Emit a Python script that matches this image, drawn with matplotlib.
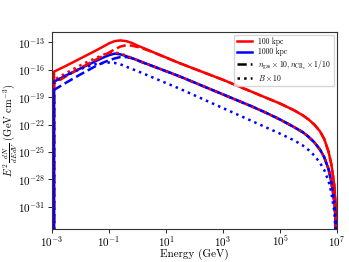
import numpy as np
import matplotlib
matplotlib.use("Agg")
import matplotlib.pyplot as plt
from matplotlib.lines import Line2D

plt.rcParams['font.family'] = 'serif'
plt.rcParams['font.serif'] = ['cmr10', 'DejaVu Serif']
plt.rcParams['mathtext.fontset'] = 'cm'
plt.rcParams['axes.formatter.use_mathtext'] = True

# log10(Energy / GeV)
log_energy = [-2.93, -2.93, -2.5, -2.0, -1.5, -1.2, -1.0, -0.8, -0.6, -0.4, -0.2, 0.0, 0.2,
              0.5, 1.0, 1.5, 2.0, 2.5, 3.0, 3.5, 4.0, 4.5, 5.0, 5.5, 5.8, 6.0, 6.2, 6.4, 6.55,
              6.7, 6.8, 6.9, 6.95, 6.96]

# log10(E^2 dN/dEdV / GeV cm^-3)
red_solid = [-45, -16.2, -15.55, -14.75, -13.95, -13.45, -13.1, -12.85, -12.78, -12.85, -13.05,
             -13.35, -13.6, -14.0, -14.65, -15.3, -15.9, -16.5, -17.1, -17.75, -18.4, -19.05,
             -19.7, -20.45, -21.0, -21.45, -22.0, -22.75, -23.6, -25.0, -26.4, -28.6, -31.0, -45]
blue_solid = [-45, -17.3, -16.6, -15.85, -15.1, -14.65, -14.4, -14.22, -14.3, -14.5, -14.72,
              -14.95, -15.2, -15.55, -16.15, -16.75, -17.4, -18.05, -18.7, -19.35, -20.0, -20.7,
              -21.45, -22.3, -22.85, -23.35, -23.95, -24.75, -25.6, -26.9, -28.3, -30.4, -32.5, -45]
red_dashed = [-45, -17.5, -16.7, -15.8, -14.95, -14.45, -14.1, -13.75, -13.45, -13.3, -13.35,
              -13.5, -13.68, -14.02, -14.67, -15.3, -15.9, -16.5, -17.1, -17.75, -18.4, -19.05,
              -19.7, -20.45, -21.0, -21.45, -22.0, -22.75, -23.6, -25.0, -26.4, -28.6, -31.0, -45]
blue_dashed = [-45, -18.2, -17.4, -16.5, -15.65, -15.2, -14.95, -14.75, -14.6, -14.6, -14.72,
               -14.97, -15.22, -15.57, -16.15, -16.75, -17.4, -18.05, -18.7, -19.35, -20.0, -20.7,
               -21.45, -22.3, -22.85, -23.35, -23.95, -24.75, -25.6, -26.9, -28.3, -30.4, -32.5, -45]
red_dotted = [-45, -17.1, -16.35, -15.5, -14.75, -14.35, -14.15, -14.1, -14.2, -14.45, -14.7,
              -14.95, -15.2, -15.55, -16.15, -16.75, -17.4, -18.05, -18.7, -19.35, -20.0, -20.7,
              -21.45, -22.3, -22.85, -23.35, -23.95, -24.75, -25.6, -26.9, -28.3, -30.4, -32.5, -45]
blue_dotted = [-45, -17.3, -16.6, -15.9, -15.4, -15.25, -15.2, -15.25, -15.4, -15.65, -15.9,
               -16.15, -16.4, -16.8, -17.45, -18.1, -18.8, -19.5, -20.2, -20.9, -21.6, -22.3,
               -23.0, -23.75, -24.3, -24.8, -25.4, -26.2, -27.0, -28.2, -29.5, -31.5, -34.0, -45]

legend_labels = ['100 kpc', '1000 kpc',
                 r'$n_{\rm gas}\times 10, n_{\rm CR_e}\times 1/10$', r'$B\times 10$']
xticks = [1e-3, 1e-1, 1e1, 1e3, 1e5, 1e7]
yticks = [1e-31, 1e-28, 1e-25, 1e-22, 1e-19, 1e-16, 1e-13]

E = 10.0 ** np.array(log_energy)
fig = plt.figure(figsize=(3.49, 2.62), dpi=100)
ax = fig.add_axes([0.149, 0.126, 0.817, 0.752])

lw = 1.8
ax.plot(E, 10.0 ** np.array(red_solid), color='red', lw=lw, ls='-')
ax.plot(E, 10.0 ** np.array(blue_solid), color='blue', lw=lw, ls='-')
ax.plot(E, 10.0 ** np.array(red_dashed), color='red', lw=lw, ls='--')
ax.plot(E, 10.0 ** np.array(blue_dashed), color='blue', lw=lw, ls='--')
ax.plot(E, 10.0 ** np.array(red_dotted), color='red', lw=lw, ls=':')
ax.plot(E, 10.0 ** np.array(blue_dotted), color='blue', lw=lw, ls=':')

ax.set_xscale('log')
ax.set_yscale('log')
ax.set_xlim(1e-3, 1e7)
ax.set_ylim(10 ** -33.45, 10 ** -11.85)
ax.set_xticks(xticks)
ax.set_yticks(yticks)
ax.minorticks_off()
ax.tick_params(labelsize=8, length=3, width=0.6)
ax.tick_params(axis='x', pad=0.5)
ax.tick_params(axis='y', pad=2)
for s in ax.spines.values():
    s.set_linewidth(0.8)
    s.set_color('#333333')

ax.set_xlabel('Energy (GeV)', fontsize=8)
ax.xaxis.set_label_coords(0.5, -0.1)
ax.set_ylabel(r'$E^2\,\frac{dN}{dEdV}$ (GeV cm$^{-3}$)', fontsize=7.5)
ax.yaxis.set_label_coords(-0.145, 0.5)
ax.yaxis.label.set_va('center')

handles = [Line2D([], [], color='red', lw=lw, ls='-'),
           Line2D([], [], color='blue', lw=lw, ls='-'),
           Line2D([], [], color='black', lw=lw, ls='--'),
           Line2D([], [], color='black', lw=lw, ls=':')]
ax.legend(handles, legend_labels, loc='upper right', fontsize=5.5, handlelength=2.0,
          frameon=True, borderpad=0.4, labelspacing=0.25, handletextpad=0.8,
          bbox_to_anchor=(1.0, 1.0), borderaxespad=0.35)

fig.savefig('out.png', dpi=100)
